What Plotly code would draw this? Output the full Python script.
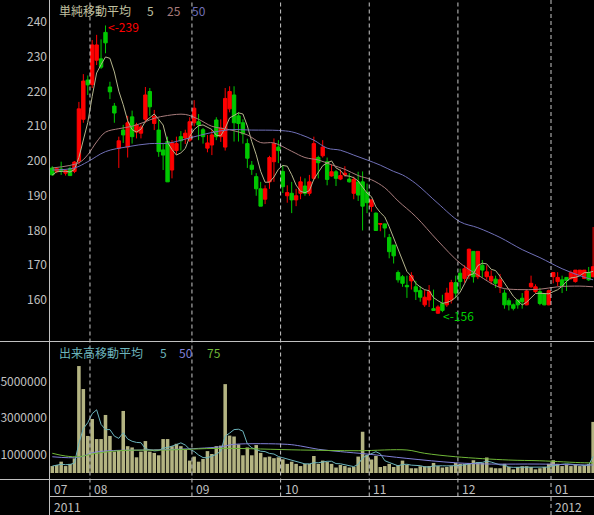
import plotly.graph_objects as go
import pandas as pd

W, H = 594, 515

# ---- price data (one candle per trading day, 2011-07-19 .. 2012-01-18) ----
opens = [198.0,197.0,197.7,196.5,197.8,197.0,200.0,212.0,223.3,222.0,
         229.0,229.4,237.0,221.3,215.8,203.7,208.9,204.0,212.7,208.3,
         208.0,212.0,220.0,210.8,208.9,203.2,205.6,197.4,203.0,207.0,
         206.6,206.0,211.0,211.3,209.0,203.7,204.6,211.8,207.0,204.0,
         215.0,219.0,213.0,211.0,205.0,198.8,195.5,192.0,189.0,194.0,
         199.8,204.0,197.0,190.0,190.7,188.8,190.7,192.8,190.7,195.0,
         201.0,201.5,199.8,195.7,196.9,194.8,196.0,194.8,190.7,194.0,
         194.0,191.0,186.9,185.0,181.8,181.9,178.0,175.8,167.9,166.7,
         164.2,165.5,163.8,162.7,158.6,160.0,157.5,156.2,159.0,158.6,
         160.0,165.0,167.7,166.2,167.0,174.0,166.7,170.0,166.7,165.5,
         166.0,163.8,162.0,159.8,158.6,160.0,160.5,158.6,163.8,162.4,
         162.4,161.7,158.6,166.7,165.3,165.8,166.5,166.2,165.3,167.2,
         166.2,167.9,166.7]
highs = [198.5,198.0,199.8,197.7,198.4,200.0,217.0,225.0,224.6,234.8,
         236.3,235.0,239.0,222.8,216.7,207.0,210.4,213.0,214.5,211.0,
         210.5,221.3,221.0,214.7,211.8,205.2,207.0,206.0,207.0,208.6,
         209.0,212.6,217.5,213.5,209.5,207.5,208.9,212.6,212.0,221.0,
         221.5,221.5,214.0,212.0,206.4,200.0,196.5,194.0,193.0,201.5,
         206.5,206.0,198.8,193.0,194.0,192.0,195.5,195.0,196.0,207.0,
         201.5,206.0,201.0,199.0,197.4,197.6,198.5,196.5,195.5,196.9,
         197.0,193.5,189.0,185.2,182.0,182.0,179.0,175.8,168.5,167.2,
         167.0,168.0,165.5,164.0,162.9,164.3,163.0,158.5,161.5,163.5,
         165.8,167.0,169.0,170.0,174.8,174.0,174.0,171.5,170.0,168.5,
         167.0,167.5,163.0,160.5,159.0,160.0,162.0,163.0,167.0,164.5,
         163.5,162.0,163.0,168.0,168.0,167.0,166.5,168.5,168.6,168.6,
         168.6,169.5,181.0]
lows = [195.8,196.5,196.0,195.8,195.8,196.5,199.0,211.0,219.0,221.0,
        227.6,226.5,231.0,217.8,211.0,198.0,205.2,201.0,205.0,206.5,
        206.5,211.0,213.0,208.9,201.2,197.4,194.0,195.0,201.7,203.0,
        204.9,205.5,210.0,206.0,205.0,202.5,201.7,206.0,205.5,203.0,
        214.0,205.6,205.6,205.0,198.0,196.0,190.0,187.0,187.6,192.0,
        194.0,199.4,190.8,188.0,185.0,187.0,189.0,190.0,190.0,194.5,
        195.0,201.0,193.0,195.5,192.8,194.5,195.5,193.8,189.0,188.5,
        180.0,185.0,185.4,180.0,179.8,178.0,172.0,170.5,165.0,163.8,
        160.6,163.0,160.0,159.5,158.0,158.0,157.0,156.0,156.5,158.0,
        159.0,160.5,163.0,165.0,166.0,165.0,166.0,166.5,165.8,164.5,
        163.5,162.0,157.5,157.0,157.0,157.5,157.5,158.5,163.5,162.0,
        158.5,158.5,158.5,164.8,164.0,162.0,162.6,165.8,165.0,167.0,
        166.0,165.5,166.5]
closes = [196.0,197.8,197.2,197.3,195.8,199.7,215.0,223.0,221.9,233.4,
          233.4,227.0,234.0,219.9,213.8,205.8,207.5,211.0,207.0,210.4,
          209.8,219.0,215.6,212.8,202.7,201.7,194.0,205.2,205.0,205.8,
          208.0,211.3,215.2,210.4,207.0,205.2,207.5,207.0,209.5,218.0,
          220.0,211.0,210.8,207.8,200.8,197.6,192.0,187.0,192.0,201.0,
          205.0,203.0,192.6,190.9,188.8,190.0,194.0,190.7,194.0,205.0,
          199.5,204.0,194.7,196.9,195.0,195.8,196.5,194.0,194.7,190.2,
          187.0,188.0,188.8,180.0,182.0,180.7,173.9,172.7,165.8,164.8,
          163.8,167.0,162.4,160.8,160.8,162.4,157.0,158.0,157.0,162.0,
          165.0,162.0,165.3,169.0,174.6,166.7,174.0,168.6,168.1,166.8,
          164.8,165.8,158.6,158.6,157.6,158.6,159.5,162.6,164.8,163.8,
          159.0,158.6,162.7,167.9,166.5,164.0,165.6,167.9,168.6,168.6,
          168.6,165.8,169.6]
volumes_m = [0.38,0.44,0.62,0.38,0.5,0.8,5.86,4.6,2.03,2.96,
             1.86,1.86,3.18,2.03,1.17,1.25,3.4,1.47,1.4,0.86,
             1.17,1.75,1.17,1.1,0.97,1.86,1.86,1.47,1.6,1.47,
             1.26,0.68,0.9,0.62,0.77,1.2,1.04,1.47,1.5,4.87,
             2.05,2.0,1.57,0.97,1.4,0.97,1.53,1.1,0.86,0.9,
             0.81,0.86,0.75,0.5,0.62,0.5,0.38,0.5,0.5,0.93,
             0.5,0.68,0.6,0.5,0.3,0.44,0.38,0.3,0.33,0.9,
             2.26,1.0,0.74,0.93,0.33,0.38,0.5,0.33,0.44,0.68,
             0.44,0.26,0.26,0.37,0.37,0.38,0.55,0.38,0.3,0.33,
             0.38,0.55,0.5,0.5,0.55,0.7,0.6,0.55,0.85,0.3,
             0.26,0.26,0.5,0.33,0.2,0.33,0.37,0.37,0.33,0.2,
             0.26,0.33,0.5,0.7,0.5,0.38,0.44,0.38,0.44,0.38,
             0.44,0.5,2.8]

# moving averages (anchor candles -> value)
ma25_idx = [0,6,8,10,12,15,18,21,23,26,30,33,36,40,44,47,50,54,57,60,63,66,69,72,75,78,82,87,92,96,101,105,110,114,119,122]
ma25_val = [198.0,199.5,201.8,205.5,208.3,209.3,210.0,211.3,212.3,213.1,213.4,212.0,210.0,209.0,207.5,205.3,205.2,202.8,201.0,200.3,198.9,197.6,195.8,194.6,192.3,188.5,184.0,177.0,170.6,167.2,163.6,163.0,163.1,163.8,164.0,163.8]
ma50_idx = [0,5,8,12,17,22,26,30,33,36,40,45,51,54,56,59,62,65,68,71,74,77,79,82,87,92,96,101,106,110,115,119,122]
ma50_val = [197.4,198.0,199.8,202.7,204.1,205.0,205.1,206.3,207.3,208.2,209.0,208.9,208.8,208.4,207.6,206.0,203.7,203.1,201.7,200.3,198.8,197.0,196.0,193.5,187.8,182.5,180.8,178.0,174.5,172.2,169.0,167.0,165.8]
vma50_idx = [0,6,9,13,21,28,33,38,41,53,56,60,65,71,80,91,99,110,120,122]
vma50_m = [0.89,0.86,1.11,1.22,1.26,1.30,1.35,1.44,1.57,1.57,1.48,1.30,1.17,1.04,0.80,0.56,0.49,0.49,0.44,0.44]
vma75_idx = [0,3,6,9,15,26,38,56,69,80,84,91,103,110,120,122]
vma75_m = [1.08,0.93,0.89,1.04,1.22,1.26,1.35,1.26,1.22,1.26,1.08,0.89,0.71,0.67,0.56,0.56]

month_labels = ["07", "08", "09", "10", "11", "12", "01"]
month_starts = [0, 9, 32, 52, 72, 92, 113]
year_labels = ["2011", "2012"]
year_starts = [0, 113]
price_ticks = [160, 170, 180, 190, 200, 210, 220, 230, 240]
vol_ticks = [1000000, 3000000, 5000000]

# ---- styling ----
FONT = "Noto Sans CJK JP"
GRAY = "#c0c0c0"
RED = "#ff0000"
GREEN = "#00c800"
C_MA5 = "#b4b48c"
C_MA25 = "#a87c7c"
C_MA50 = "#7070b8"
C_VOL = "#b4b482"
C_VMA5 = "#6cb4bc"
C_VMA50 = "#8080d8"
C_VMA75 = "#70b838"

n = len(closes)
x = list(range(n))
volumes = [v * 1e6 for v in volumes_m]
ma5 = pd.Series(closes).rolling(5, min_periods=1).mean()
vma5 = pd.Series(volumes).rolling(5, min_periods=1).mean()

def py(ypx):
    return 1 - ypx / H

def px(xpx):
    return xpx / W

fig = go.Figure()
fig.add_trace(go.Candlestick(
    x=x, open=opens, high=highs, low=lows, close=closes,
    increasing=dict(line=dict(color=RED, width=1), fillcolor=RED),
    decreasing=dict(line=dict(color=GREEN, width=1), fillcolor=GREEN),
    whiskerwidth=0, xaxis="x", yaxis="y", showlegend=False, hoverinfo="skip"))
fig.add_trace(go.Scatter(x=x, y=ma5, mode="lines", line=dict(color=C_MA5, width=1),
                         xaxis="x", yaxis="y", showlegend=False))
fig.add_trace(go.Scatter(x=ma25_idx, y=ma25_val, mode="lines", line=dict(color=C_MA25, width=1, shape="spline"),
                         xaxis="x", yaxis="y", showlegend=False))
fig.add_trace(go.Scatter(x=ma50_idx, y=ma50_val, mode="lines", line=dict(color=C_MA50, width=1, shape="spline"),
                         xaxis="x", yaxis="y", showlegend=False))

fig.add_trace(go.Bar(x=x, y=volumes, marker=dict(color=C_VOL, line=dict(width=0)),
                     xaxis="x2", yaxis="y2", showlegend=False))
fig.add_trace(go.Scatter(x=x, y=vma5, mode="lines", line=dict(color=C_VMA5, width=1),
                         xaxis="x2", yaxis="y2", showlegend=False))
fig.add_trace(go.Scatter(x=vma50_idx, y=[v * 1e6 for v in vma50_m], mode="lines",
                         line=dict(color=C_VMA50, width=1, shape="spline"),
                         xaxis="x2", yaxis="y2", showlegend=False))
fig.add_trace(go.Scatter(x=vma75_idx, y=[v * 1e6 for v in vma75_m], mode="lines",
                         line=dict(color=C_VMA75, width=1, shape="spline"),
                         xaxis="x2", yaxis="y2", showlegend=False))

xdom = [px(50), 1]
xr = [-0.52, 122.2]
axis_common = dict(showgrid=False, zeroline=False, showline=False, ticks="", automargin=False)
fig.update_layout(
    template="none",
    width=W, height=H, margin=dict(l=0, r=0, t=0, b=0, pad=0, autoexpand=False),
    paper_bgcolor="black", plot_bgcolor="black",
    font=dict(family=FONT, color=GRAY, size=12),
    showlegend=False, bargap=0.2, boxgap=0.2, boxgroupgap=0.05,
    xaxis=dict(domain=xdom, range=xr, anchor="y", showticklabels=False,
               rangeslider=dict(visible=False), **axis_common),
    xaxis2=dict(domain=xdom, range=xr, anchor="y2", showticklabels=False, matches="x", **axis_common),
    yaxis=dict(domain=[py(341), 1], range=[148.2, 246.33], anchor="x",
               tickvals=price_ticks, ticktext=[str(t) for t in price_ticks], ticklabelstandoff=2,
               tickfont=dict(family=FONT, size=12, color=GRAY), **axis_common),
    yaxis2=dict(domain=[py(479), py(343)], range=[-0.329e6, 7.123e6], anchor="x2",
                tickvals=vol_ticks, ticktext=[str(t) for t in vol_ticks], ticklabelstandoff=2,
                tickfont=dict(family=FONT, size=12, color=GRAY), **axis_common),
)

shapes = []
# frame lines
shapes.append(dict(type="line", xref="paper", yref="paper", x0=px(49.5), x1=px(49.5), y0=0, y1=1,
                   line=dict(color=GRAY, width=1)))
for ypx, x0 in [(341.5, 0), (479.5, 0), (496.5, 49.5)]:
    shapes.append(dict(type="line", xref="paper", yref="paper", x0=px(x0), x1=1, y0=py(ypx), y1=py(ypx),
                       line=dict(color=GRAY, width=1)))
# month separators (dashed)
for s in month_starts[1:]:
    ybottom = 0 if s in year_starts else py(496.5)
    shapes.append(dict(type="line", xref="x", yref="paper", x0=s - 0.5, x1=s - 0.5, y0=ybottom, y1=1,
                       line=dict(color="#c8c8c8", width=1, dash="4px,3px")))
fig.update_layout(shapes=shapes)

ann = []
for lab, s in zip(month_labels, month_starts):
    ann.append(dict(x=s - 0.5, y=py(488), xref="x", yref="paper", text=lab, showarrow=False,
                    xanchor="left", yanchor="middle", xshift=2, font=dict(size=12, color=GRAY)))
for lab, s in zip(year_labels, year_starts):
    ann.append(dict(x=s - 0.5, y=py(506), xref="x", yref="paper", text=lab, showarrow=False,
                    xanchor="left", yanchor="middle", xshift=2, font=dict(size=12, color=GRAY)))

def label(text, xpx, ypx, color):
    ann.append(dict(x=px(xpx), y=py(ypx), xref="paper", yref="paper", text=text, showarrow=False,
                    xanchor="left", yanchor="middle", font=dict(size=12, color=color)))

label("単純移動平均", 57, 11, "#c0c0a0")
label("5", 145, 11, "#c0c0a0")
label("25", 165, 11, C_MA25)
label("50", 190, 11, C_MA50)
label("出来高移動平均", 57, 352, C_VMA5)
label("5", 158, 352, C_VMA5)
label("50", 177, 352, C_VMA50)
label("75", 205, 352, C_VMA75)

imax = max(range(n), key=lambda i: highs[i])
imin = min(range(n), key=lambda i: lows[i])
ann.append(dict(x=imax, y=highs[imax], xref="x", yref="y", text=f"<-{round(highs[imax])}",
                showarrow=False, xanchor="left", yanchor="middle", xshift=0, yshift=-1,
                font=dict(size=12, color=RED)))
ann.append(dict(x=imin, y=lows[imin], xref="x", yref="y", text=f"<-{round(lows[imin])}",
                showarrow=False, xanchor="left", yanchor="middle", xshift=3, yshift=-2,
                font=dict(size=12, color="#00d000")))
fig.update_layout(annotations=ann)

fig.write_html("out.html", include_plotlyjs=True, full_html=True,
               config={"displayModeBar": False, "staticPlot": True},
               post_script="document.body.style.margin='0';document.body.style.padding='0';"
                           "document.body.style.background='black';document.body.style.overflow='hidden';")
